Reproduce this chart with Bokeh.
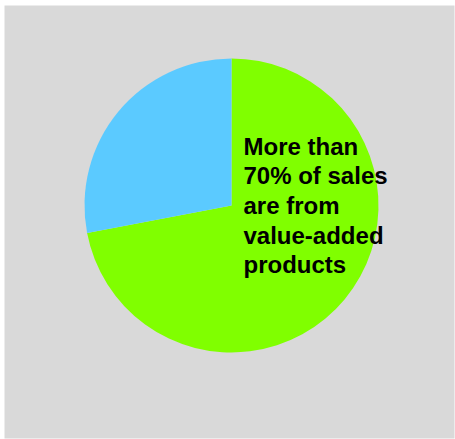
import numpy as np
from bokeh.plotting import figure
from bokeh.models import Range1d, ColumnDataSource, Label
from bokeh.embed import file_html
from bokeh.resources import INLINE

categories = ["Value-added products", "Other products"]
values = [72, 28]
colors = ["#80ff00", "#5bcaff"]
note = "More than\n70% of sales\nare from\nvalue-added\nproducts"

W, H = 450, 433
cx, cy, r = 227, H - 200, 147

fr = np.array(values, dtype=float) / sum(values)
ends = np.cumsum(fr) * 2 * np.pi
starts = np.concatenate([[0], ends[:-1]])
src = ColumnDataSource(dict(
    cat=categories,
    start=np.pi / 2 - starts,
    end=np.pi / 2 - ends,
    color=colors,
))

p = figure(width=455, height=439, output_backend="svg", toolbar_location=None,
           x_range=Range1d(0, W), y_range=Range1d(0, H),
           min_border_left=4, min_border_top=5, min_border_right=1, min_border_bottom=1)
p.axis.visible = False
p.grid.visible = False
p.outline_line_color = None
p.background_fill_color = "#d9d9d9"
p.border_fill_color = "white"

p.wedge(x=cx, y=cy, radius=r, start_angle="start", end_angle="end",
        direction="clock", fill_color="color", line_color=None, source=src)

lab = Label(x=239, y=H - 127, text=note, text_font="Liberation Sans",
            text_font_style="bold", text_font_size="24px", text_color="black",
            text_baseline="top", text_align="left", text_line_height=1.1)
p.add_layout(lab)

open("out.html", "w").write(file_html(p, INLINE))
